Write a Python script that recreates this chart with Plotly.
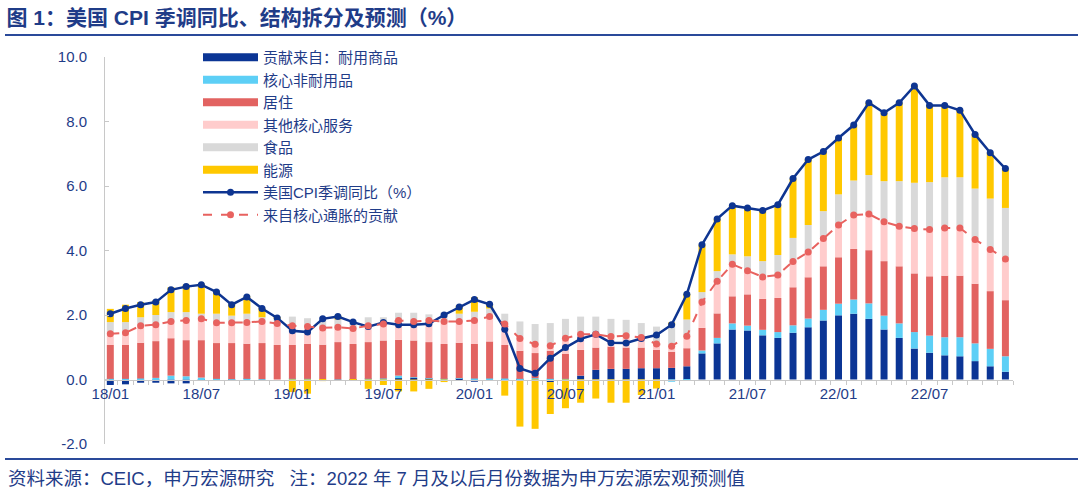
import plotly.graph_objects as go

# ---------------- data ----------------
years = ["18", "19", "20", "21", "22"]
months = ["01", "02", "03", "04", "05", "06", "07", "08", "09", "10", "11", "12"]
categories = [f"{y}/{m}" for y in years for m in months]
tick_labels = ["18/01", "18/07", "19/01", "19/07", "20/01", "20/07", "21/01", "21/07", "22/01", "22/07"]
y_ticks = [-2, 0, 2, 4, 6, 8, 10]
y_tick_text = ["-2.0", "0.0", "2.0", "4.0", "6.0", "8.0", "10.0"]

durable = [-0.17, -0.15, -0.10, -0.10, -0.12, -0.12, -0.03, 0.00, -0.03, 0.00, 0.00, 0.00,
           0.00, 0.00, 0.00, 0.00, 0.01, 0.00, 0.00, 0.04, 0.05, 0.02, 0.00, 0.02,
           -0.07, 0.00, -0.02, -0.03, 0.00, -0.08, 0.00, 0.12, 0.30, 0.33, 0.33, 0.35,
           0.35, 0.36, 0.41, 0.81, 1.12, 1.55, 1.52, 1.37, 1.29, 1.45, 1.62, 1.83,
           1.99, 2.04, 1.88, 1.55, 1.29, 0.96, 0.83, 0.75, 0.72, 0.57, 0.41, 0.24]
nondurable = [0.02, 0.02, 0.03, 0.05, 0.12, 0.10, 0.06, 0.02, 0.01, 0.02, 0.01, 0.00,
              0.02, 0.02, 0.00, -0.04, 0.00, 0.02, 0.03, 0.08, 0.02, 0.02, 0.02, 0.02,
              0.03, 0.03, 0.03, 0.02, 0.04, 0.02, 0.02, 0.00, 0.00, 0.00, 0.00, 0.00,
              0.00, -0.07, -0.03, 0.09, 0.17, 0.19, 0.15, 0.17, 0.18, 0.23, 0.27, 0.33,
              0.36, 0.44, 0.48, 0.43, 0.45, 0.51, 0.53, 0.56, 0.59, 0.55, 0.54, 0.48]
shelter = [1.05, 1.05, 1.11, 1.14, 1.16, 1.12, 1.16, 1.11, 1.12, 1.09, 1.12, 1.07,
           1.05, 1.08, 1.08, 1.16, 1.09, 1.14, 1.18, 1.11, 1.14, 1.12, 1.08, 1.10,
           1.07, 1.15, 1.04, 0.87, 0.78, 0.87, 0.77, 0.80, 0.69, 0.69, 0.66, 0.64,
           0.57, 0.50, 0.56, 0.70, 0.76, 0.84, 0.97, 0.96, 1.06, 1.18, 1.28, 1.35,
           1.44, 1.57, 1.65, 1.69, 1.77, 1.82, 1.84, 1.91, 1.91, 1.85, 1.79, 1.74]
other_services = [0.35, 0.38, 0.53, 0.52, 0.52, 0.61, 0.66, 0.63, 0.63, 0.65, 0.67, 0.66,
                  0.55, 0.52, 0.52, 0.46, 0.50, 0.51, 0.52, 0.60, 0.62, 0.67, 0.70, 0.66,
                  0.72, 0.74, 0.68, 0.39, 0.28, 0.16, 0.49, 0.49, 0.42, 0.31, 0.37, 0.31,
                  0.18, 0.20, 0.37, 0.83, 1.00, 1.00, 0.73, 0.68, 0.71, 0.80, 0.78, 0.86,
                  1.00, 1.05, 1.13, 1.22, 1.24, 1.39, 1.45, 1.48, 1.48, 1.37, 1.29, 1.28]
food = [0.36, 0.33, 0.26, 0.29, 0.29, 0.26, 0.16, 0.28, 0.22, 0.28, 0.13, 0.15,
        0.33, 0.28, 0.33, 0.24, 0.22, 0.26, 0.20, 0.24, 0.24, 0.19, 0.28, 0.24,
        0.28, 0.28, 0.29, 0.52, 0.62, 0.70, 0.60, 0.54, 0.54, 0.55, 0.49, 0.45,
        0.54, 0.60, 0.52, 0.28, 0.31, 0.30, 0.45, 0.49, 0.62, 0.73, 0.84, 0.85,
        0.95, 1.07, 1.20, 1.26, 1.40, 1.42, 1.47, 1.57, 1.57, 1.58, 1.58, 1.58]
energy = [0.41, 0.54, 0.47, 0.45, 0.77, 0.85, 0.93, 0.67, 0.35, 0.54, 0.28, 0.03,
          -0.39, -0.44, -0.05, 0.12, -0.04, -0.29, -0.17, -0.37, -0.37, -0.29, -0.08, 0.25,
          0.45, 0.13, -0.48, -1.43, -1.53, -0.99, -0.89, -0.72, -0.59, -0.72, -0.72, -0.48,
          -0.28, 0.11, 0.80, 1.47, 1.62, 1.50, 1.50, 1.57, 1.56, 1.84, 2.03, 1.85,
          1.75, 1.72, 2.24, 2.12, 2.43, 3.00, 2.38, 2.23, 2.08, 1.68, 1.42, 1.22]
cpi_yoy = [2.04, 2.20, 2.32, 2.40, 2.78, 2.88, 2.94, 2.71, 2.32, 2.56, 2.20, 1.91,
           1.51, 1.47, 1.88, 1.95, 1.78, 1.64, 1.77, 1.70, 1.70, 1.73, 2.00, 2.25,
           2.48, 2.33, 1.56, 0.34, 0.19, 0.66, 0.99, 1.26, 1.40, 1.14, 1.13, 1.27,
           1.38, 1.70, 2.64, 4.18, 4.98, 5.39, 5.32, 5.24, 5.42, 6.23, 6.82, 7.07,
           7.49, 7.89, 8.58, 8.27, 8.58, 9.10, 8.50, 8.50, 8.35, 7.60, 7.03, 6.54]
core_contrib = [1.42, 1.45, 1.67, 1.70, 1.80, 1.83, 1.88, 1.76, 1.76, 1.77, 1.80, 1.74,
                1.67, 1.64, 1.60, 1.62, 1.58, 1.67, 1.72, 1.83, 1.80, 1.83, 1.80, 1.80,
                1.83, 1.95, 1.72, 1.27, 1.09, 1.05, 1.28, 1.40, 1.40, 1.33, 1.36, 1.30,
                1.10, 1.03, 1.34, 2.40, 3.05, 3.57, 3.37, 3.18, 3.24, 3.66, 3.95, 4.37,
                4.79, 5.10, 5.13, 4.89, 4.75, 4.68, 4.65, 4.70, 4.70, 4.34, 4.03, 3.74]

bar_series = [
    ("贡献来自：耐用商品", durable, "#0B3595"),
    ("核心非耐用品", nondurable, "#5DCFF6"),
    ("居住", shelter, "#E26361"),
    ("其他核心服务", other_services, "#FFCCCC"),
    ("食品", food, "#D9D9D9"),
    ("能源", energy, "#FFC800"),
]

TXT = "#1F3C88"
FONT = "Liberation Sans, Arial, Noto Sans CJK SC, sans-serif"

fig = go.Figure()

# stacked bars
for name, vals, col in bar_series:
    fig.add_trace(go.Bar(x=categories, y=vals, name=name, marker_color=col,
                         marker_line_width=0, width=0.46, showlegend=False))

# legend proxies for bar series (wide thick swatches)
for name, vals, col in bar_series:
    fig.add_trace(go.Scatter(x=[None], y=[None], mode="lines", name=name,
                             line=dict(color=col, width=8)))

fig.add_trace(go.Scatter(x=categories, y=cpi_yoy, mode="lines+markers",
                         name="美国CPI季调同比（%）",
                         line=dict(color="#0E3591", width=2.5),
                         marker=dict(size=7, color="#0E3591")))
fig.add_trace(go.Scatter(x=categories, y=core_contrib, mode="lines+markers",
                         name="来自核心通胀的贡献",
                         line=dict(color="#E8625F", width=2, dash="dash"),
                         marker=dict(size=7, color="#E8625F")))

# layout geometry helpers (plot area: x 105..1013, y 57..444)
L, R, T, B = 105, 67, 57, 51
pw, ph = 1080 - L - R, 495 - T - B
def px_x(p):
    return (p - L) / pw
def px_y(p):
    return (495 - B - p) / ph

fig.update_layout(
    width=1080, height=495,
    margin=dict(l=L, r=R, t=T, b=B),
    barmode="relative",
    plot_bgcolor="white", paper_bgcolor="white",
    font=dict(family=FONT, color=TXT, size=15),
    title=dict(text="<b>图 1：美国 CPI 季调同比、结构拆分及预测（%）</b>",
               xref="container", yref="container", x=0.006, xanchor="left",
               y=1 - 18 / 495, yanchor="middle",
               font=dict(size=21, color=TXT, family=FONT)),
    legend=dict(x=px_x(198), y=px_y(41), xanchor="left", yanchor="top",
                bgcolor="rgba(0,0,0,0)", font=dict(size=15, color=TXT),
                itemwidth=55, tracegroupgap=0),
    xaxis=dict(type="category", range=[-0.35, 59.5],
               tickmode="array", tickvals=categories,
               ticktext=[c if c in tick_labels else "" for c in categories],
               tickson="boundaries", ticks="outside", ticklen=4, tickcolor="#C8C8C8",
               showline=True, linecolor="#C8C8C8", linewidth=1,
               showgrid=False, zeroline=False,
               anchor="free", position=2 / 12,
               tickfont=dict(size=15, color=TXT), tickangle=0),
    yaxis=dict(range=[-2, 10], tickmode="array", tickvals=y_ticks, ticktext=y_tick_text,
               showline=True, linecolor="#C8C8C8", linewidth=1,
               ticks="inside", ticklen=4, tickcolor="#C8C8C8",
               showgrid=False, zeroline=False, ticklabelstandoff=14,
               tickfont=dict(size=15, color=TXT)),
    shapes=[
        dict(type="line", xref="paper", yref="paper", x0=px_x(5), x1=px_x(1078),
             y0=px_y(35), y1=px_y(35), line=dict(color="#2A4A9A", width=2)),
        dict(type="line", xref="paper", yref="paper", x0=px_x(5), x1=px_x(1078),
             y0=px_y(459), y1=px_y(459), line=dict(color="#2A4A9A", width=2)),
    ],
    annotations=[
        dict(text="资料来源：CEIC，申万宏源研究   注：2022 年 7 月及以后月份数据为申万宏源宏观预测值",
             xref="paper", yref="paper", x=px_x(6), y=px_y(478), xanchor="left",
             yanchor="middle", showarrow=False, font=dict(size=18.5, color=TXT)),
    ],
)

fig.write_html("out.html")
